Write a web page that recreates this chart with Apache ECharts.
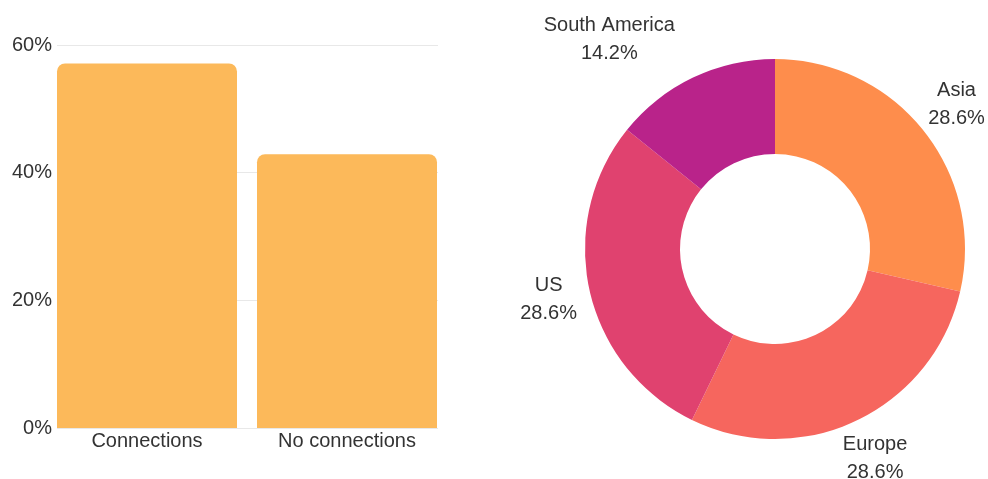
<!DOCTYPE html>
<html>
<head>
<meta charset="utf-8">
<script src="https://cdn.jsdelivr.net/npm/echarts@6/dist/echarts.min.js"></script>
<style>
  html, body { margin: 0; padding: 0; background: #fff; }
  #chart { width: 988px; height: 479px; }
</style>
</head>
<body>
<div id="chart"></div>
<script>
// Share of respondents with / without connections
const barCategories = ['Connections', 'No connections'];
const barValues = [57.1, 42.9];
const yTicks = { min: 0, max: 60, interval: 20 };

// Distribution by region
const regionNames = ['Asia', 'Europe', 'US', 'South America'];
const regionValues = [28.6, 28.6, 28.6, 14.2];
const regionColors = ['#FE8D4C', '#F6665E', '#E0426F', '#B9238A'];

const FONT = '"Liberation Sans", Arial, sans-serif';
const TEXT = '#333333';

// Donut geometry
const pieCenter = [775, 249];
const pieRadius = [95, 190];
const labelRadius = 232;
// horizontal shift of a label, as a fraction of its own width
const labelShift = { 'South America': -0.5 };

const total = regionValues.reduce((a, b) => a + b, 0);
const midAngles = [];
let cum = 0;
regionValues.forEach(v => {
  midAngles.push((cum + v / 2) / total * Math.PI * 2);
  cum += v;
});

const chart = echarts.init(document.getElementById('chart'));

chart.setOption({
  animation: false,
  textStyle: { fontFamily: FONT },
  grid: [
    // axis frame with grid lines
    { left: 57, right: 550, top: 45, bottom: 51 },
    // bars, spanning slightly wider so they meet the frame edges
    { left: 47, width: 400, top: 45, bottom: 51 }
  ],
  xAxis: [
    { gridIndex: 0, type: 'category', data: barCategories, show: false },
    {
      gridIndex: 1, type: 'category', data: barCategories,
      axisLine: { show: false }, axisTick: { show: false },
      axisLabel: { fontSize: 20, color: TEXT, margin: 3, fontFamily: FONT }
    }
  ],
  yAxis: [
    {
      gridIndex: 0, type: 'value',
      min: yTicks.min, max: yTicks.max, interval: yTicks.interval,
      axisLine: { show: false }, axisTick: { show: false },
      axisLabel: { formatter: '{value}%', fontSize: 20, color: TEXT, margin: 5, fontFamily: FONT },
      splitLine: { lineStyle: { color: '#e8e8e8', width: 1 } }
    },
    {
      gridIndex: 1, type: 'value',
      min: yTicks.min, max: yTicks.max, interval: yTicks.interval,
      show: false, splitLine: { show: false }
    }
  ],
  series: [
    {
      type: 'bar',
      xAxisIndex: 1, yAxisIndex: 1,
      data: barValues,
      barCategoryGap: '10%',
      itemStyle: { color: '#FCB95A', borderRadius: [8, 8, 0, 0] }
    },
    {
      type: 'pie',
      center: pieCenter,
      radius: pieRadius,
      startAngle: 90,
      clockwise: true,
      data: regionNames.map((n, i) => ({
        name: n, value: regionValues[i], itemStyle: { color: regionColors[i] }
      })),
      label: {
        show: true,
        position: 'outside',
        overflow: 'none',
        formatter: p => p.name + '\n' + p.value.toFixed(1) + '%',
        fontSize: 20,
        lineHeight: 28,
        color: TEXT,
        fontFamily: FONT
      },
      labelLine: { show: false },
      labelLayout: params => {
        const a = midAngles[params.dataIndex];
        const name = regionNames[params.dataIndex];
        const shift = (labelShift[name] || 0) * params.labelRect.width;
        return {
          x: pieCenter[0] + labelRadius * Math.sin(a) + shift,
          y: pieCenter[1] - labelRadius * Math.cos(a),
          align: 'center',
          verticalAlign: 'middle'
        };
      },
      emphasis: { disabled: true }
    }
  ]
});
</script>
</body>
</html>
